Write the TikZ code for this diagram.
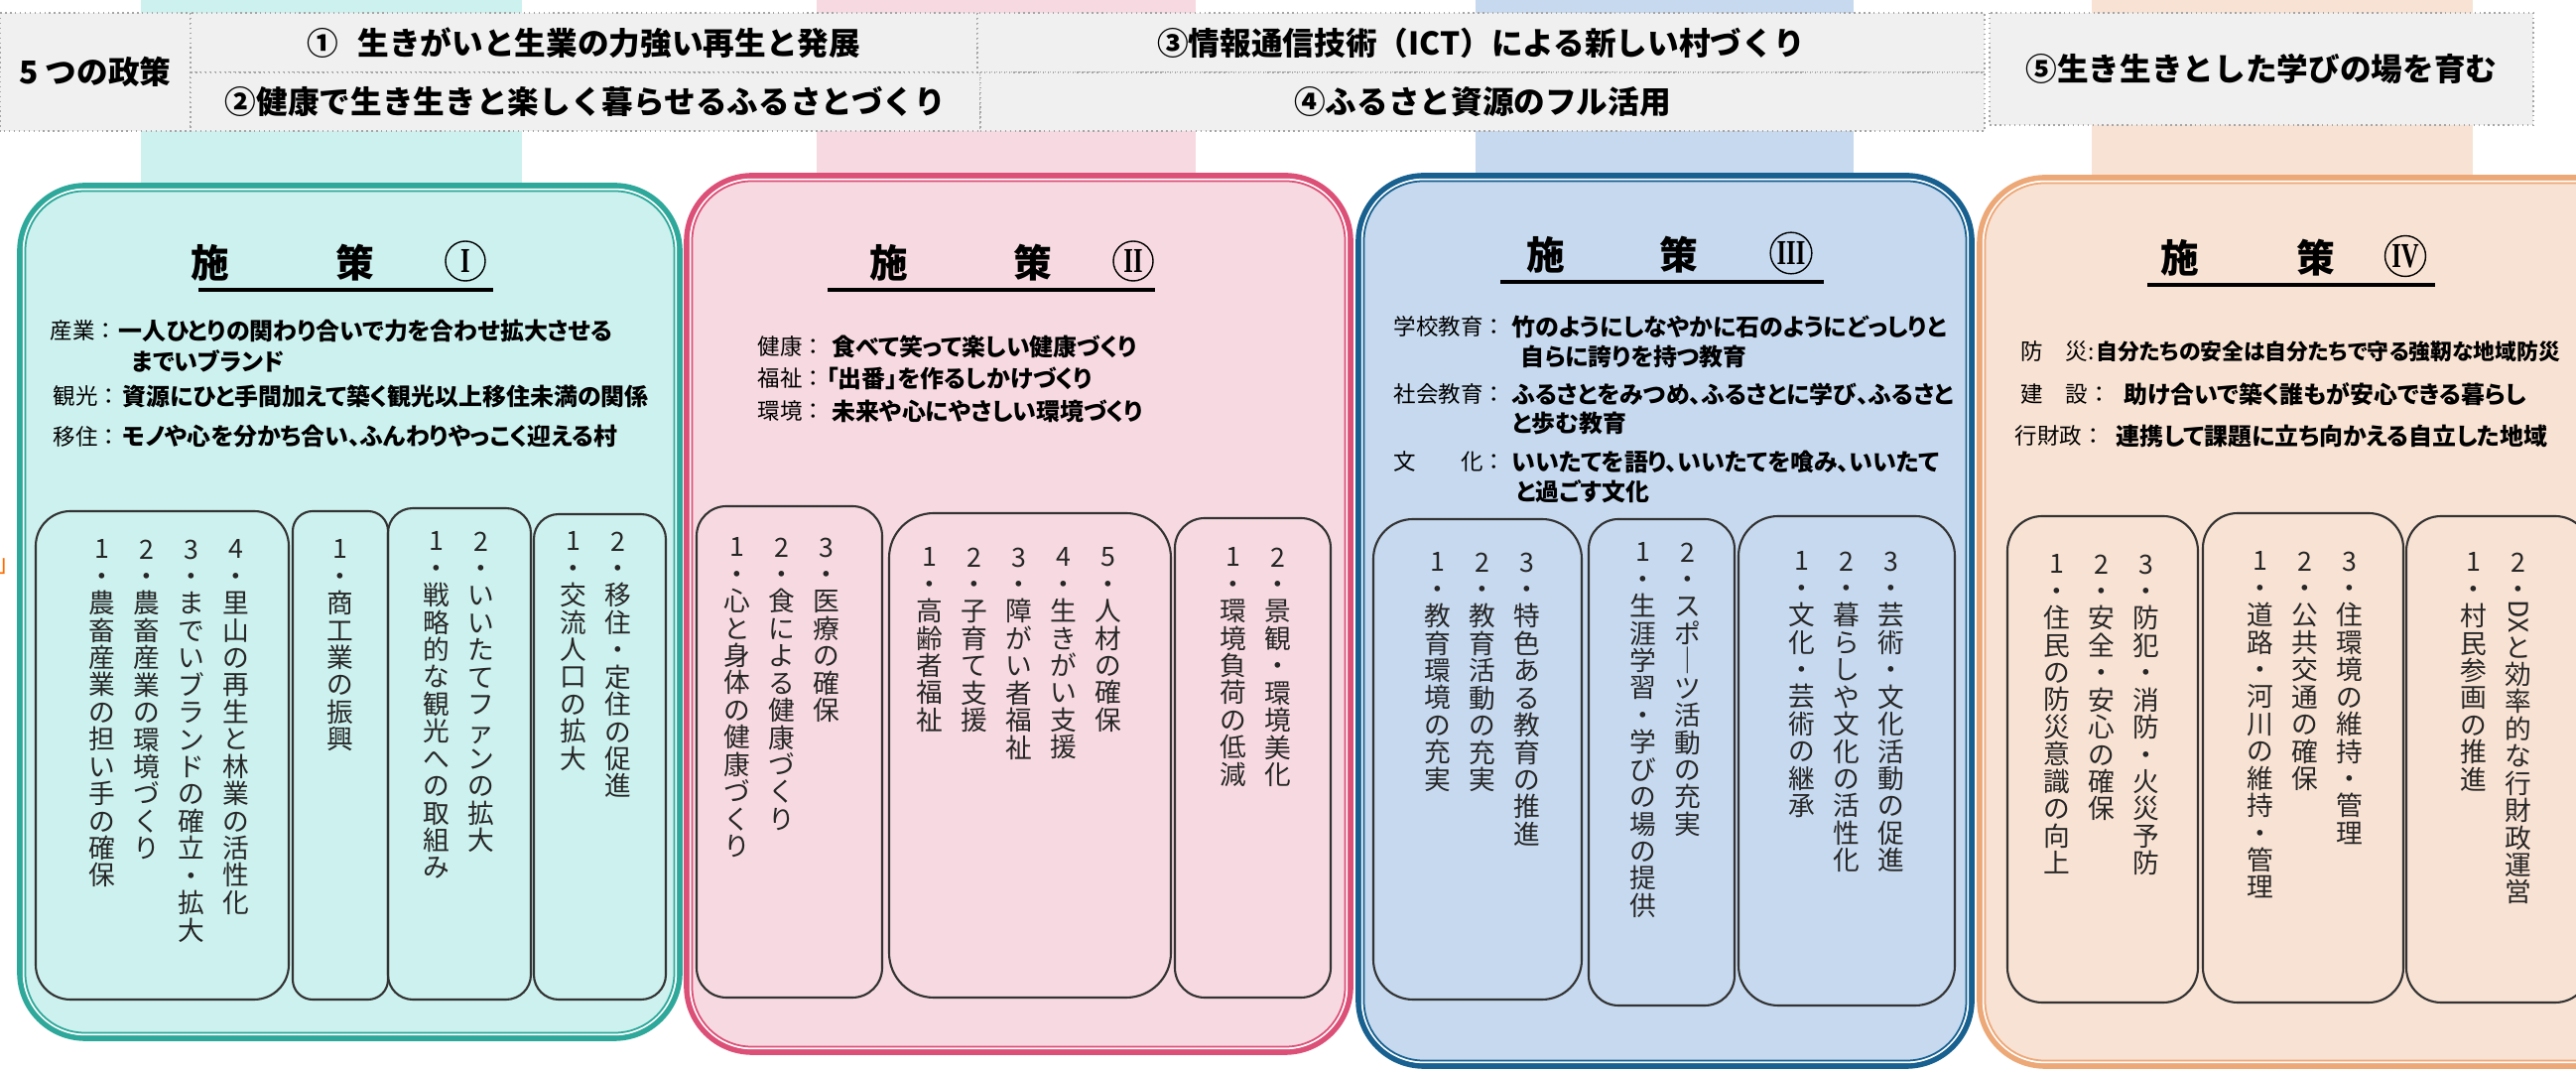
\documentclass[tikz,border=0pt]{standalone}
\usepackage{fontspec}
\usepackage{graphicx}
\setmainfont{Noto Sans CJK JP}
\newfontfamily\jpprop{Noto Sans CJK JP}[RawFeature=+palt]
\newfontfamily\romfont{Liberation Serif}

\definecolor{bI}{HTML}{2EA89A}
\definecolor{fI}{HTML}{CCF1EE}
\definecolor{bII}{HTML}{DC5078}
\definecolor{fII}{HTML}{F7DAE1}
\definecolor{bIII}{HTML}{17608F}
\definecolor{fIII}{HTML}{C6D9EF}
\definecolor{bIV}{HTML}{EDA878}
\definecolor{fIV}{HTML}{F8E2D3}
\definecolor{hdrfill}{HTML}{F0F0F0}

\newcommand\rotDX{\rotatebox[origin=c]{-90}{DX}}
\def\vcolx#1{\ifx#1\relax\else#1\par\expandafter\vcolx\fi}
\newcommand\vcol[1]{\parbox[t]{1em}{\centering\expandafter\vcolx#1\relax}}
\newcommand\colset[4]{%
  \foreach \t [count=\i] in {#4}
    \node[vtext] (#3\i) at ({#1+45*(\i-1)},#2) {\vcol{\t}};}

\tikzset{
  polbox/.style={draw=gray!70, densely dotted, fill=hdrfill},
  htext/.style={font=\fontsize{9pt}{10pt}\selectfont\bfseries},
  subbox/.style={draw=black!80, line width=0.6pt},
  vtext/.style={anchor=north, inner sep=0pt, text=black!85, font=\fontsize{7.6pt}{7.8pt}\selectfont},
  ttl/.style={inner sep=0pt, font=\fontsize{11pt}{12pt}\selectfont\bfseries},
  numcirc/.style={circle, draw, thin, inner sep=0.5pt, minimum size=0.4cm, font=\romfont\fontsize{10pt}{10pt}\selectfont\bfseries},
  lbl/.style={anchor=west, inner sep=0pt, font=\fontsize{6.4pt}{7pt}\selectfont},
  txt/.style={anchor=west, inner sep=0pt, font=\jpprop\fontsize{6.8pt}{7pt}\selectfont\bfseries},
}

\begin{document}
\begin{tikzpicture}[x=0.01cm, y=-0.01cm]
\useasboundingbox (0,0) rectangle (2596,1080);
\clip (0,0) rectangle (2596,1080);

% bands behind the header
\fill[fI] (142,0) rectangle (526,200);
\fill[fII] (823,0) rectangle (1205,200);
\fill[fIII] (1487,0) rectangle (1868,200);
\fill[fIV] (2108,0) rectangle (2492,200);

% five policies
\draw[polbox] (0,13) rectangle node[htext] (pol0) {5 つの政策} (192,132);
\draw[polbox] (192,13) rectangle node[htext] (pol1) {①\hspace{0.6em}生きがいと生業の力強い再生と発展} (985,73);
\draw[polbox] (192,73) rectangle node[htext] (pol2) {②健康で生き生きと楽しく暮らせるふるさとづくり} (988,132);
\draw[polbox] (985,13) rectangle node[htext] (pol3) {③情報通信技術（ICT）による新しい村づくり} (2000,73);
\draw[polbox] (988,73) rectangle node[htext] (pol4) {④ふるさと資源のフル活用} (2000,132);
\draw[polbox] (2005,13) rectangle node[htext] (pol5) {⑤生き生きとした学びの場を育む} (2553,126);

\node[anchor=west, inner sep=0pt, text=orange!85!red, font=\fontsize{7pt}{7pt}\selectfont] (stray) at (-4,571) {」};

% panels
\foreach \xa/\ya/\xb/\yb/\pn in {20/187/685/1046/I, 692/177/1361/1060/II, 1369/177/1987/1074/III, 1995/179/2660/1074/IV} {
  \draw[line width=1.6pt, draw=b\pn, fill=f\pn, rounded corners=0.66cm] (\xa,\ya) rectangle (\xb,\yb);
  \draw[line width=0.5pt, white, rounded corners=0.62cm] (\xa+3.7,\ya+3.7) rectangle (\xb-3.7,\yb-3.7);
  \draw[line width=0.5pt, draw=b\pn, rounded corners=0.6cm] (\xa+5.5,\ya+5.5) rectangle (\xb-5.5,\yb-5.5);
}

% titles
\foreach \pn/\xa/\xb/\xc/\yy/\ua/\ub in {I/212/358/469/265/200/497, II/896/1041/1142/265/834/1164, III/1558/1692/1805/257/1512/1838, IV/2197/2334/2424/260/2164/2454} {
  \node[ttl] (ttl\pn a) at (\xa,\yy) {施};
  \node[ttl] (ttl\pn b) at (\xb,\yy) {策};
  \node[numcirc] (ttl\pn c) at (\xc,\yy-2) {\scalebox{0.7}[1]{\pn}};
  \draw[line width=0.9pt] (\ua,\yy+27) -- (\ub,\yy+27);
}

% panel I
\node[lbl] (sIa) at (50,333) {産業：};
\node[txt] (tIa) at (119,333) {一人ひとりの関わり合いで力を合わせ拡大させる};
\node[txt] (tIb) at (132,364) {までいブランド};
\node[lbl] (sIc) at (53,399) {観光：};
\node[txt] (tIc) at (123,399) {資源にひと手間加えて築く観光以上移住未満の関係};
\node[lbl] (sId) at (53,440) {移住：};
\node[txt] (tId) at (123,440) {モノや心を分かち合い、ふんわりやっこく迎える村};

% panel II
\node[lbl] (sIIa) at (763,349) {健康：};
\node[txt] (tIIa) at (838,349) {食べて笑って楽しい健康づくり};
\node[lbl] (sIIb) at (763,381) {福祉：};
\node[txt] (tIIb) at (832,381) {「出番」を作るしかけづくり};
\node[lbl] (sIIc) at (763,414) {環境：};
\node[txt] (tIIc) at (838,414) {未来や心にやさしい環境づくり};

% panel III
\node[lbl] (sIIIa) at (1404,329) {学校教育：};
\node[txt] (tIIIa) at (1523,329) {竹のようにしなやかに石のようにどっしりと};
\node[txt] (tIIIb) at (1532,359) {自らに誇りを持つ教育};
\node[lbl] (sIIIc) at (1404,397) {社会教育：};
\node[txt] (tIIIc) at (1523,397) {ふるさとをみつめ、ふるさとに学び、ふるさと};
\node[txt] (tIIId) at (1523,427) {と歩む教育};
\node[lbl] (sIIIe) at (1404,465) {文　　化：};
\node[txt] (tIIIe) at (1523,465) {いいたてを語り、いいたてを喰み、いいたて};
\node[txt] (tIIIf) at (1527,495) {と過ごす文化};

% panel IV
\node[lbl] (sIVa) at (2036,354) {防　災:};
\node[txt, font=\jpprop\fontsize{6.2pt}{7pt}\selectfont\bfseries] (tIVa) at (2112,354) {自分たちの安全は自分たちで守る強靭な地域防災};
\node[lbl] (sIVb) at (2036,397) {建　設：};
\node[txt] (tIVb) at (2140,397) {助け合いで築く誰もが安心できる暮らし};
\node[lbl] (sIVc) at (2030,439) {行財政：};
\node[txt] (tIVc) at (2132,439) {連携して課題に立ち向かえる自立した地域};

% measure boxes
\foreach \xa/\ya/\xb/\yb/\r in {36/515/291/1007/0.35, 295/515/391/1007/0.2, 391/512/535/1007/0.25, 538/518/671/1007/0.25,
  702/510/889/1005/0.3, 896/517/1180/1005/0.45, 1184/522/1341/1005/0.3,
  1384/523/1594/1007/0.4, 1601/523/1748/1013/0.3, 1752/520/1970/1013/0.4,
  2023/520/2215/1010/0.35, 2220/517/2422/1010/0.35, 2425/520/2610/1010/0.35}
  \draw[subbox, rounded corners=\r cm] (\xa,\ya) rectangle (\xb,\yb);

\colset{103}{543}{mIa}{1・農畜産業の担い手の確保, 2・農畜産業の環境づくり, 3・までいブランドの確立・拡大, 4・里山の再生と林業の活性化}
\colset{343}{543}{mIb}{1・商工業の振興}
\colset{440}{535}{mIc}{1・戦略的な観光への取組み, 2・いいたてファンの拡大}
\colset{578}{535}{mId}{1・交流人口の拡大, 2・移住・定住の促進}

\colset{743}{541}{mIIa}{1・心と身体の健康づくり, 2・食による健康づくり, 3・医療の確保}
\colset{937}{551}{mIIb}{1・高齢者福祉, 2・子育て支援, 3・障がい者福祉, 4・生きがい支援, 5・人材の確保}
\colset{1243}{551}{mIIc}{1・環境負荷の低減, 2・景観・環境美化}

\colset{1449}{556}{mIIIa}{1・教育環境の充実, 2・教育活動の充実, 3・特色ある教育の推進}
\colset{1656}{546}{mIIIb}{1・生涯学習・学びの場の提供, 2・スポ｜ツ活動の充実}
\colset{1816}{555}{mIIIc}{1・文化・芸術の継承, 2・暮らしや文化の活性化, 3・芸術・文化活動の促進}

\colset{2073}{558}{mIVa}{1・住民の防災意識の向上, 2・安全・安心の確保, 3・防犯・消防・火災予防}
\colset{2278}{555}{mIVb}{1・道路・河川の維持・管理, 2・公共交通の確保, 3・住環境の維持・管理}
\colset{2493}{556}{mIVc}{1・村民参画の推進, 2・\rotDX と効率的な行財政運営}
\end{tikzpicture}
\end{document}
